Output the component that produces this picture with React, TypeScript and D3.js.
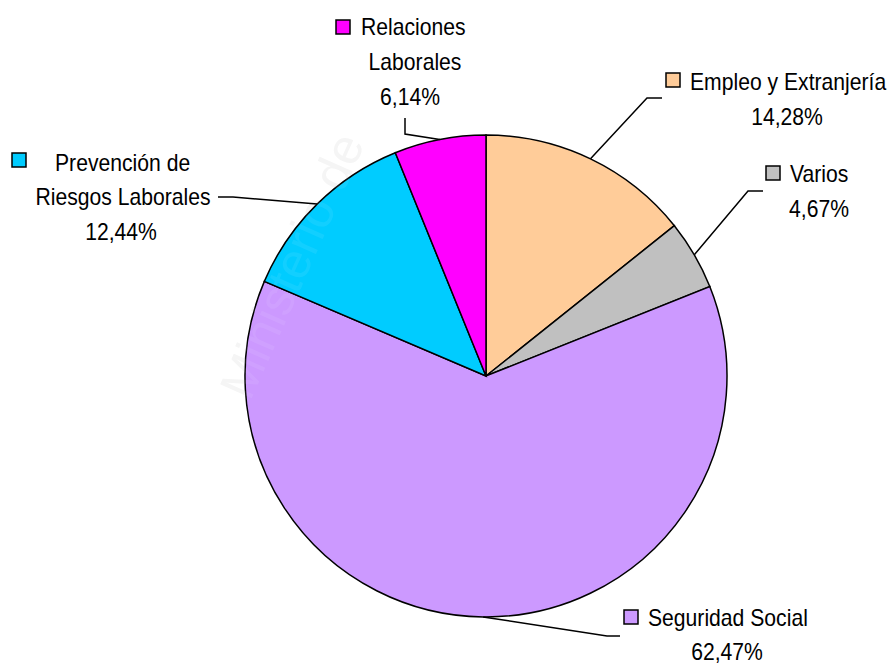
import React from "react";
import * as d3 from "d3";

const categories = [
  "Empleo y Extranjería",
  "Varios",
  "Seguridad Social",
  "Prevención de Riesgos Laborales",
  "Relaciones Laborales",
];
const values = [14.28, 4.67, 62.47, 12.44, 6.14];
const valueLabels = ["14,28%", "4,67%", "62,47%", "12,44%", "6,14%"];
const colors = ["#FFCC99", "#C0C0C0", "#CC99FF", "#00CCFF", "#FF00FF"];

// label layout (positions only)
type Layout = {
  lines: { text: string; x: number; y: number; anchor: string }[];
  square: [number, number];
  leader: [number, number][];
};

const W = 893;
const H = 665;
const cx = 486;
const cy = 376;
const R = 241;
const FS = 23;
const SX = 0.92;

const layouts: Layout[] = [
  {
    square: [666, 73],
    lines: [
      { text: "Empleo y Extranjería", x: 690, y: 90, anchor: "start" },
      { text: "{v}", x: 787, y: 125, anchor: "middle" },
    ],
    leader: [[662, 98], [647, 98]],
  },
  {
    square: [766, 166],
    lines: [
      { text: "Varios", x: 790, y: 182, anchor: "start" },
      { text: "{v}", x: 819, y: 217, anchor: "middle" },
    ],
    leader: [[763, 191], [748, 191]],
  },
  {
    square: [624, 610],
    lines: [
      { text: "Seguridad Social", x: 648, y: 626, anchor: "start" },
      { text: "{v}", x: 727, y: 660, anchor: "middle" },
    ],
    leader: [[620, 636], [607, 636]],
  },
  {
    square: [12, 153],
    lines: [
      { text: "Prevención de", x: 55, y: 171, anchor: "start" },
      { text: "Riesgos Laborales", x: 123, y: 205, anchor: "middle" },
      { text: "{v}", x: 121, y: 240, anchor: "middle" },
    ],
    leader: [[218, 197], [233, 197]],
  },
  {
    square: [336, 20],
    lines: [
      { text: "Relaciones", x: 361, y: 35, anchor: "start" },
      { text: "Laborales", x: 415, y: 70, anchor: "middle" },
      { text: "{v}", x: 410, y: 105, anchor: "middle" },
    ],
    leader: [[405, 118], [405, 134]],
  },
];

const FONT = "'Liberation Sans', Arial, Helvetica, sans-serif";
const WM = "Ministerio de";
const WM_T = "translate(250,402) rotate(-66)";

function Label({ text, x, y, anchor }: { text: string; x: number; y: number; anchor: string }) {
  return (
    <g transform={`translate(${x},${y}) scale(${SX},1)`}>
      <text x={0} y={0} textAnchor={anchor} fontFamily={FONT} fontSize={FS} fill="#000">
        {text}
      </text>
    </g>
  );
}

export default function App() {
  const pie = d3
    .pie<number>()
    .sort(null)
    .value((d) => d)
    .startAngle(0)
    .endAngle(2 * Math.PI);
  const arcs = pie(values);
  const arc = d3.arc<d3.PieArcDatum<number>>().innerRadius(0).outerRadius(R);

  const edgePoint = (a: d3.PieArcDatum<number>): [number, number] => {
    const m = (a.startAngle + a.endAngle) / 2;
    return [cx + R * Math.sin(m), cy - R * Math.cos(m)];
  };

  const line = d3.line();

  return (
    <svg
      width={W}
      height={H}
      style={{ position: "absolute", left: 0, top: 0, background: "#fff" }}
    >
      <rect x={0} y={0} width={W} height={H} fill="#fff" />
      <g transform={WM_T}>
        <text x={0} y={0} fontFamily={FONT} fontSize={50} fill="#f5f5f5">
          {WM}
        </text>
      </g>
      <g transform={`translate(${cx},${cy})`}>
        {arcs.map((a, i) => (
          <path key={i} d={arc(a) || ""} fill={colors[i]} stroke="#000" strokeWidth={1.5} />
        ))}
      </g>
      <g transform={WM_T}>
        <text x={0} y={0} fontFamily={FONT} fontSize={50} fill="#fff" opacity={0.07}>
          {WM}
        </text>
      </g>
      {arcs.map((a, i) => {
        const L = layouts[i];
        const pts = [...L.leader, edgePoint(a)] as [number, number][];
        return (
          <g key={i}>
            <path d={line(pts) || ""} fill="none" stroke="#000" strokeWidth={1.5} />
            <rect
              x={L.square[0]}
              y={L.square[1]}
              width={14}
              height={14}
              fill={colors[i]}
              stroke="#000"
              strokeWidth={1.5}
            />
            {L.lines.map((ln, j) => (
              <Label
                key={j}
                text={ln.text === "{v}" ? valueLabels[i] : ln.text}
                x={ln.x}
                y={ln.y}
                anchor={ln.anchor}
              />
            ))}
          </g>
        );
      })}
    </svg>
  );
}
